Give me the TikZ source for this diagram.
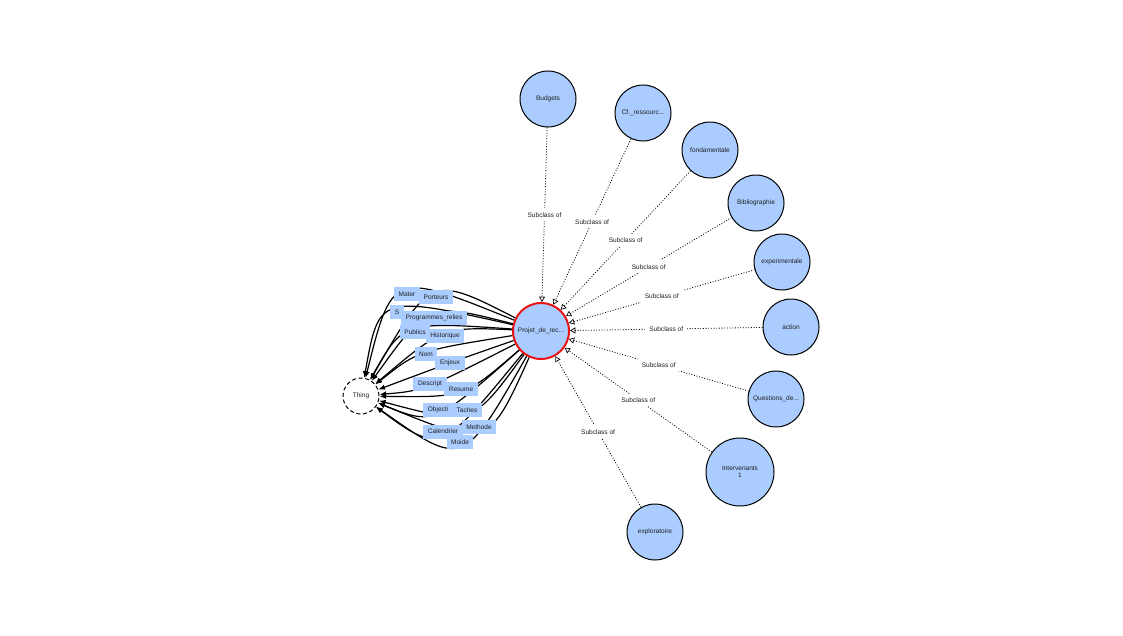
\documentclass[tikz,border=0pt]{standalone}
\usepackage{fontspec}
\setmainfont{Liberation Sans}
\usetikzlibrary{arrows.meta,calc}
\definecolor{classc}{RGB}{170,204,255}
\definecolor{rootc}{RGB}{235,20,20}
\definecolor{textc}{RGB}{30,30,30}
\newcommand{\cut}{...}

\tikzset{
  cls/.style={circle,draw=black,line width=0.75pt,fill=classc,minimum size=42pt,inner sep=0pt,align=center,text=textc},
  rootcls/.style={cls,draw=rootc,line width=1.5pt},
  thingcls/.style={circle,draw=black,line width=0.75pt,dash pattern=on 3pt off 2pt,fill=white,minimum size=27pt,inner sep=0pt,text=textc},
  attr/.style={fill=classc,inner xsep=3.4pt,inner ysep=0pt,minimum height=10.5pt,text=textc},
  subc/.style={line width=0.6pt,dash pattern=on 0.7pt off 1.3pt,-{Triangle[length=4pt,width=4.5pt,fill=white,line width=0.5pt]}},
  sublbl/.style={fill=white,inner sep=3pt,text=textc},
  prop/.style={line width=0.9pt,-{Latex[length=5pt,width=4pt]}}
}

\begin{document}
\begin{tikzpicture}[x=0.75pt,y=-0.75pt,font=\fontsize{4.9}{5.6}\selectfont,>=Latex]
\useasboundingbox (0,0) rectangle (1123,635);

%================= classes =================
\node[rootcls] (projet) at (541,331) {Projet\_de\_rec\cut};
\node[thingcls] (thing) at (361,396) {Thing};

\foreach \n/\x/\y/\t in {budgets/548/99/Budgets, cfres/643/113/Cf.\_ressourc\cut,
    fonda/710/150/fondamentale, biblio/756/203/Bibliographie,
    experi/782/262/experimentale, action/791/327/action,
    quest/776/399/Questions\_de\cut, explo/655/532/exploratoire}
  \node[cls] (\n) at (\x,\y) {\t};
\node[cls,minimum size=51pt] (interv) at (740,472) {Intervenants\\1};

% --- subclass links
\foreach \n in {budgets,cfres,fonda,biblio,experi,action,quest,interv,explo}
  \draw[subc] (\n) -- (projet) node[midway,sublbl] {Subclass of};

%================= datatype properties =================
\foreach \i/\x/\y in {1/407/294, 2/436/297, 3/397/312, 4/434/317.5, 5/445/336,
    6/415/332, 7/426/354, 8/450/363, 9/430/384, 10/461/389, 11/438/410,
    12/467/410, 13/443/431.5, 14/479/427, 15/460/442}
  \coordinate (a\i) at (\x,\y);

\foreach \i in {1,...,15}
  \draw[prop] (projet) .. controls ($1.3333*(a\i)-0.16667*(projet)-0.16667*(thing)$) .. (thing);

% boxes on top of the lines, later ones cover earlier ones
\foreach \i/\t in {1/Mater, 2/Porteurs, 3/S, 4/Programmes\_relies, 5/Historique,
    6/Publics, 7/Nom, 8/Enjeux, 9/Descript, 10/Resume, 11/Objecti,
    12/Taches, 13/Calendrier, 14/Methode, 15/Moide}
  \node[attr] (b\i) at (a\i) {\t};

\end{tikzpicture}
\end{document}
